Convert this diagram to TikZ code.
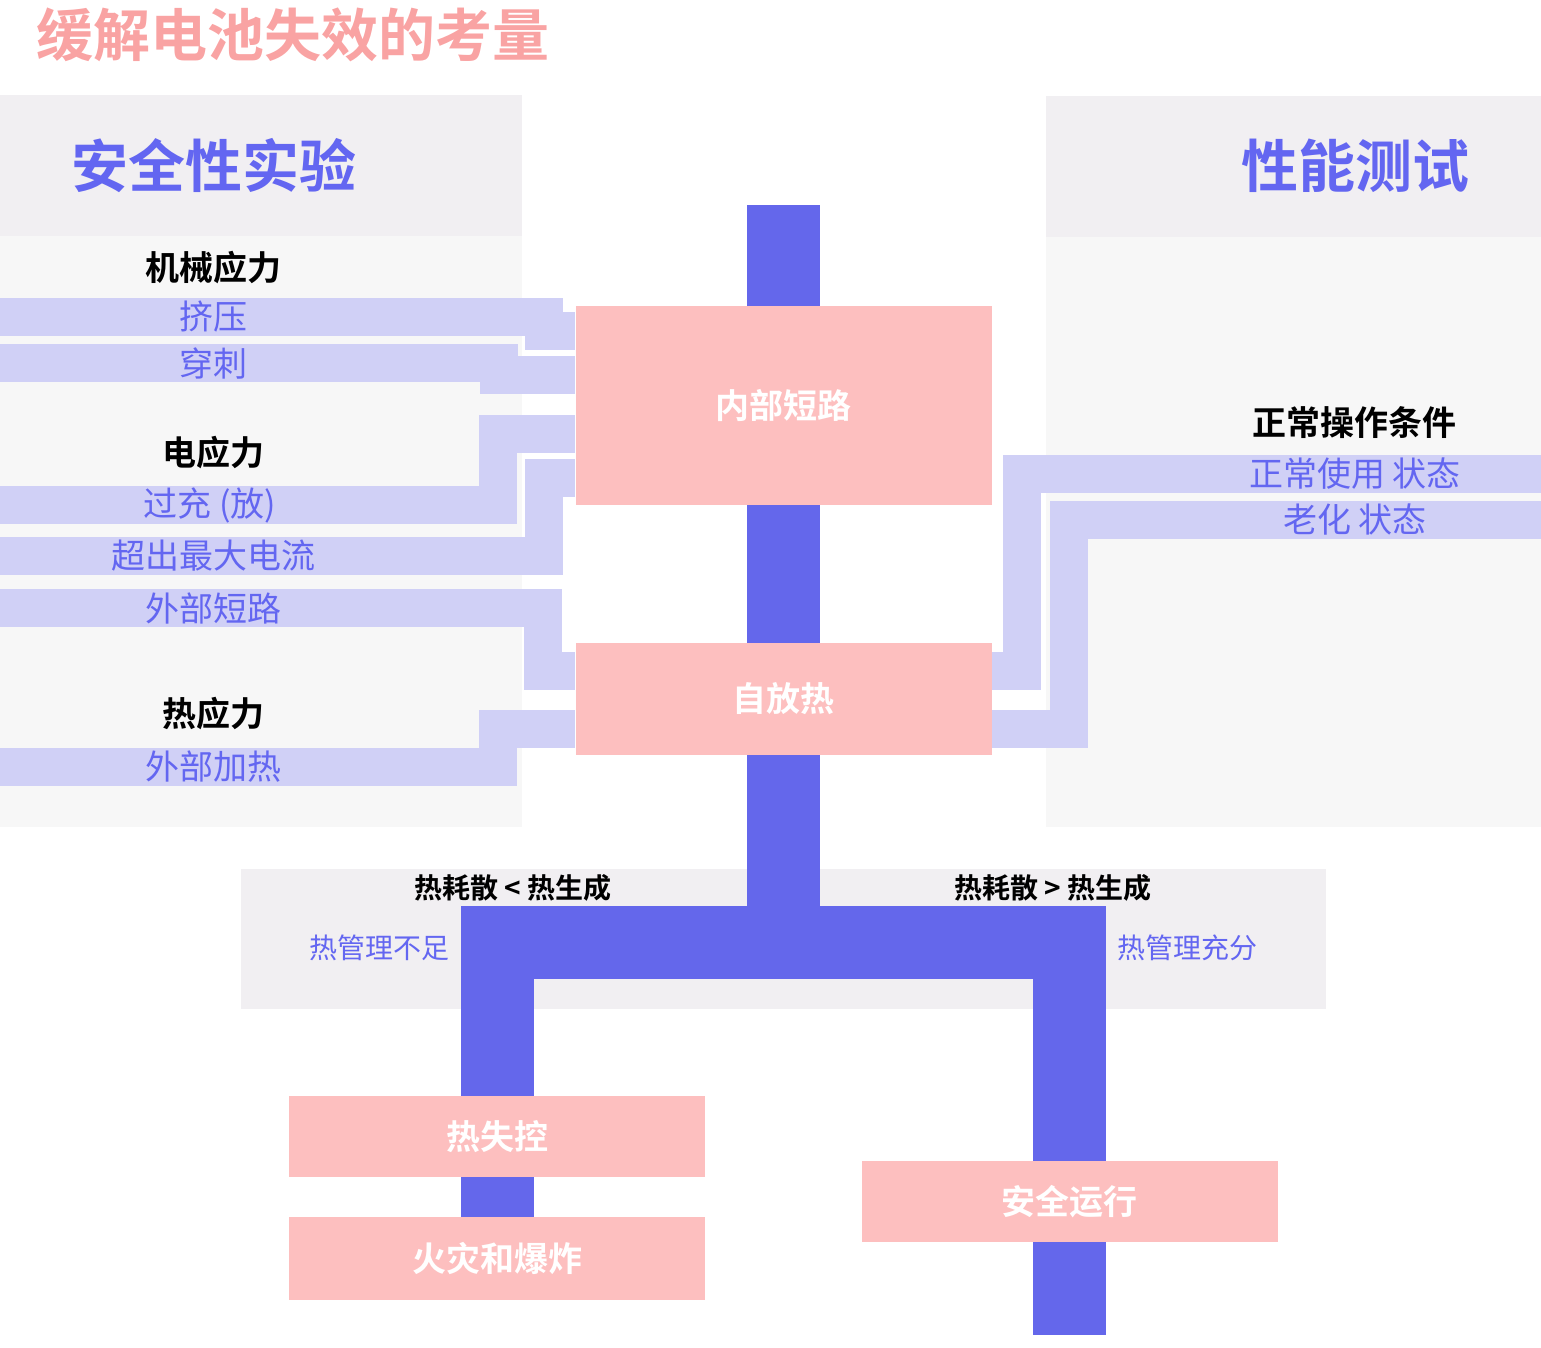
\documentclass[tikz,border=0pt]{standalone}
\usepackage{fontspec}
\setmainfont{Noto Sans CJK SC}[BoldFont={Noto Sans CJK SC Bold}]
\usetikzlibrary{positioning}
\definecolor{rose}{HTML}{FDBFBF}
\definecolor{violet}{HTML}{6467EB}
\definecolor{lilac}{HTML}{D0D0F6}
\definecolor{salmon}{HTML}{F9A3A3}
\definecolor{mist}{HTML}{F1EFF2}
\definecolor{paper}{HTML}{F7F7F7}
\definecolor{ink}{HTML}{6366F1}
\pgfdeclarelayer{panel}
\pgfdeclarelayer{wire}
\pgfsetlayers{panel,wire,main}

\begin{document}
\begin{tikzpicture}[
    x=1pt, y=-1pt,
    node distance=40pt,
    box/.style={rectangle, fill=rose, minimum width=416pt, inner sep=0pt, text=white, font=\fontsize{34}{40}\selectfont\bfseries},
    head/.style={font=\fontsize{34}{40}\selectfont\bfseries},
    item/.style={text=ink, font=\fontsize{34}{40}\selectfont},
    bigtitle/.style={font=\fontsize{57}{68}\selectfont\bfseries},
    cond/.style={font=\fontsize{28}{34}\selectfont\bfseries},
    note/.style={text=ink, font=\fontsize{28}{34}\selectfont},
    feed/.style={draw=lilac, line width=38pt},
    trunk/.style={draw=violet, line width=73pt}
]
\useasboundingbox (0,0) rectangle (1541,1347);
\coordinate (lft) at (0,0);
\coordinate (rgt) at (1541,0);
\coordinate (top) at (783.5,205);
\coordinate (split) at (783.5,942.5);
\coordinate (tail) at (1069.5,1335);

% panels
\begin{pgfonlayer}{panel}
\fill[mist] (0,95) rectangle (522,236);
\fill[paper] (0,236) rectangle (522,827);
\fill[mist] (1046,96) rectangle (1541,237);
\fill[paper] (1046,237) rectangle (1541,827);
\fill[mist] (241,869) rectangle (1326,1009);
\end{pgfonlayer}

\node[bigtitle, text=salmon, anchor=west] (main) at (33,35) {缓解电池失效的考量};
\node[bigtitle, text=ink] (safety) at (214,166) {安全性实验};
\node[bigtitle, text=ink] (perf) at (1355.5,166) {性能测试};

% outcome chain
\node[box, minimum height=199pt] (isc) at (783.5,405.5) {\raisebox{3pt}{内部短路}};
\node[box, minimum height=112pt] (heat) at (783.5,699) {自放热};
\node[box, minimum height=81pt] (runaway) at (497,1136.5) {热失控};
\node[box, minimum height=83pt, below=of runaway] (fire) {火灾和爆炸};
\node[box, minimum height=81pt] (safe) at (1069.5,1201.5) {安全运行};

% stress groups
\node[head] (mech) at (213,268) {机械应力};
\node[item] (crush) at (213,317) {挤压};
\node[item] (nail) at (213,363) {穿刺};
\node[head] (elec) at (213,453) {电应力};
\node[item] (over) at (210,505) {过充 (放)};
\node[item] (maxc) at (213,556) {超出最大电流};
\node[item] (ext) at (213,608) {外部短路};
\node[head] (therm) at (213,714) {热应力};
\node[item] (oven) at (213,767) {外部加热};
\node[head] (normal) at (1354,423) {正常操作条件};
\node[item] (usage) at (1355,474) {正常使用 状态};
\node[item] (aging) at (1355,520) {老化 状态};

\node[cond] (worse) at (513,888) {热耗散 < 热生成};
\node[cond] (better) at (1053,888) {热耗散 > 热生成};
\node[note] (poor) at (379,948) {热管理不足};
\node[note] (good) at (1187,948) {热管理充分};

\begin{pgfonlayer}{wire}
\draw[feed] (crush -| lft) -- (543.5,317) -- (543.5,331) -- (isc.west |- 0,331);
\draw[feed] (nail -| lft) -- (498.5,363) -- (498.5,375) -- (isc.west |- 0,375);
\draw[feed] (over -| lft) -- (497.5,505) -- (497.5,434) -- (isc.west |- 0,434);
\draw[feed] (maxc -| lft) -- (544,556) -- (544,478) -- (isc.west |- 0,478);
\draw[feed] (ext -| lft) -- (543,608) -- (543,670.5) -- (heat.west |- 0,670.5);
\draw[feed] (oven -| lft) -- (498,767) -- (498,729) -- (heat.west |- 0,729);
\draw[feed] (usage -| rgt) -- (1022,474) -- (1022,671) -- (heat.east |- 0,671);
\draw[feed] (aging -| rgt) -- (1068.5,520) -- (1068.5,729) -- (heat.east |- 0,729);

\draw[trunk] (top) -- (isc);
\draw[trunk] (isc) -- (heat);
\draw[trunk] (heat) -- (split);
\draw[trunk] (runaway) |- (split) -| (safe);
\draw[trunk] (runaway) -- (fire);
\draw[trunk] (safe) -- (tail);
\end{pgfonlayer}
\end{tikzpicture}
\end{document}
